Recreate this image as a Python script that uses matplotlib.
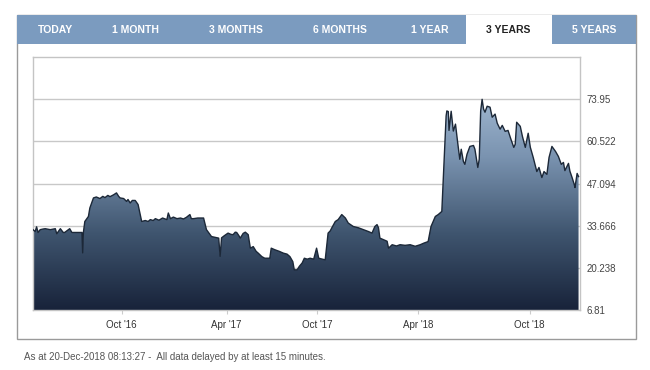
import numpy as np
import matplotlib
matplotlib.use("Agg")
import matplotlib.pyplot as plt
from matplotlib.colors import LinearSegmentedColormap
from matplotlib.patches import Polygon, Rectangle

plt.rcParams['font.family'] = ['Liberation Sans', 'DejaVu Sans']

# trading-day index (0 = start of the 3 year window) and share price
day = [0, 3, 5, 7, 10, 14, 17, 24, 31, 33, 38, 42, 44, 51, 54, 57, 61, 68, 69, 70,
       72, 77, 79, 84, 88, 93, 97, 100, 104, 107, 112, 116, 119, 121, 126, 130, 132, 135, 138, 142,
       146, 151, 156, 160, 163, 167, 170, 175, 180, 186, 188, 191, 195, 200, 205, 209, 213, 218, 220, 223,
       229, 237, 241, 248, 252, 258, 260, 262, 266, 271, 275, 278, 281, 283, 286, 288, 292, 295, 299, 302,
       306, 310, 313, 318, 322, 326, 329, 331, 336, 342, 348, 353, 357, 361, 363, 367, 370, 374, 377, 381,
       385, 390, 394, 397, 402, 406, 410, 413, 415, 420, 424, 429, 434, 438, 445, 452, 459, 466, 471, 475,
       478, 480, 482, 492, 494, 499, 505, 510, 517, 524, 531, 538, 543, 549, 553, 559, 563, 568, 570, 574,
       575, 577, 578, 581, 584, 587, 590, 593, 595, 598, 600, 603, 607, 612, 614, 618, 620, 622, 624, 626,
       628, 631, 635, 638, 642, 645, 649, 652, 656, 660, 664, 668, 670, 672, 677, 680, 684, 688, 691, 695,
       700, 703, 707, 710, 714, 717, 721, 726, 730, 734, 737, 739, 744, 746, 749, 752, 753, 756, 758]
price = [32.4, 31.8, 33.3, 31.5, 32.4, 32.6, 32.7, 32.4, 32.7, 31.1, 32.7, 31.5, 31.5, 32.7, 31.5, 31.5, 31.5, 31.5, 25.0, 31.5,
         35.0, 36.6, 39.3, 42.5, 42.8, 42.3, 43.0, 42.6, 43.3, 42.9, 43.5, 44.1, 43.0, 42.5, 42.3, 41.4, 42.0, 40.9, 41.7, 41.7,
         40.4, 35.0, 35.3, 35.0, 35.6, 35.3, 35.9, 35.4, 36.1, 35.6, 37.7, 35.9, 36.4, 35.9, 36.1, 35.8, 36.3, 37.2, 35.9, 35.9,
         36.1, 36.1, 32.4, 30.2, 30.0, 29.7, 23.9, 29.8, 30.5, 31.3, 30.9, 30.8, 31.6, 31.5, 30.5, 29.7, 31.2, 31.6, 30.8, 26.5,
         27.0, 25.5, 24.9, 23.8, 23.3, 23.3, 23.3, 26.5, 26.0, 25.5, 24.9, 24.6, 23.8, 22.2, 19.6, 19.6, 20.7, 21.8, 23.3, 23.0,
         23.3, 23.0, 26.5, 23.3, 23.0, 22.8, 31.3, 32.0, 32.9, 35.0, 35.6, 37.2, 36.1, 34.5, 33.4, 33.0, 32.4, 31.8, 31.3, 33.4,
         34.0, 33.0, 29.7, 28.7, 26.5, 27.6, 27.2, 27.6, 27.4, 27.6, 27.1, 27.6, 28.1, 28.6, 33.4, 36.6, 37.2, 38.2, 48.4, 68.6,
         70.2, 70.0, 64.0, 70.1, 63.8, 66.0, 60.2, 54.8, 58.0, 54.1, 53.2, 56.4, 58.9, 59.2, 58.0, 52.2, 54.8, 70.2, 73.9, 70.8,
         69.8, 71.7, 71.4, 68.2, 69.2, 66.3, 64.4, 65.6, 63.7, 64.0, 61.2, 58.6, 59.6, 66.6, 65.3, 62.1, 58.6, 63.1, 58.6, 55.4,
         50.9, 52.2, 49.0, 50.9, 50.0, 55.4, 58.9, 57.3, 55.7, 53.2, 53.8, 51.2, 53.5, 51.0, 49.0, 46.8, 45.8, 50.3, 49.3]

y_ticks = [6.81, 20.238, 33.666, 47.094, 60.522, 73.95]
y_labels = ["6.81", "20.238", "33.666", "47.094", "60.522", "73.95"]
x_ticks = [123, 269, 395, 535, 690]
x_labels = ["Oct '16", "Apr '17", "Oct '17", "Apr '18", "Oct '18"]
tabs = ["TODAY", "1 MONTH", "3 MONTHS", "6 MONTHS", "1 YEAR", "3 YEARS", "5 YEARS"]
tab_x = [55, 135, 236, 340, 430, 508, 594]
active_tab = "3 YEARS"

fig = plt.figure(figsize=(6.5, 3.7), dpi=100)
fig.patch.set_facecolor("white")

# page decorations (frame, tab bar) in pixel coordinates
bg = fig.add_axes([0, 0, 1, 1], zorder=0)
bg.set_xlim(0, 650)
bg.set_ylim(370, 0)
bg.axis("off")
bg.add_patch(Rectangle((17, 15), 619, 324, facecolor="white", edgecolor="#9a9a9a", lw=1))
bg.add_patch(Rectangle((17, 15), 619, 29, facecolor="#7b9bbf", edgecolor="none"))
bg.add_patch(Rectangle((466, 15), 86, 30, facecolor="white", edgecolor="none"))
for name, x in zip(tabs, tab_x):
    bg.text(x, 30, name, ha="center", va="center", fontsize=7.5, fontweight="bold",
            color="#222222" if name == active_tab else "white")
bg.text(24, 357, "As at 20-Dec-2018 08:13:27 -  All data delayed by at least 15 minutes.",
        ha="left", va="center", fontsize=7, color="#555555")

ax = fig.add_axes([33 / 650, 1 - 310 / 370, 547 / 650, 253 / 370], zorder=1)
ymin, ymax = 6.81, 87.378
ax.set_xlim(0, 760)
ax.set_ylim(ymin, ymax)

# gradient area under the price line
cmap = LinearSegmentedColormap.from_list("area", ["#18233a", "#3f556f", "#7a93b0", "#a9c0d8"])
grad = np.linspace(0, 1, 256).reshape(-1, 1)
im = ax.imshow(grad, extent=[0, 760, ymin, 80], origin="lower", aspect="auto", cmap=cmap, zorder=2)
verts = np.column_stack([np.r_[day[0], day, day[-1]], np.r_[ymin, price, ymin]])
poly = Polygon(verts, facecolor="none", edgecolor="none", transform=ax.transData)
ax.add_patch(poly)
im.set_clip_path(poly)
ax.plot(day, price, color="#1c2838", lw=1.0, zorder=3)

ax.set_yticks(y_ticks)
ax.set_yticklabels(y_labels)
ax.yaxis.tick_right()
ax.grid(axis="y", color="#c8c8c8", lw=1, zorder=1)
ax.set_axisbelow(True)
ax.tick_params(axis="y", length=0, pad=5, labelsize=7, labelcolor="#444444")
ax.set_xticks(x_ticks)
ax.set_xticklabels(x_labels)
ax.tick_params(axis="x", length=3, color="#cccccc", pad=4, labelsize=7, labelcolor="#333333")
for s in ax.spines.values():
    s.set_color("#c4c4c4")
    s.set_linewidth(1)

fig.savefig("out.png", dpi=100)
